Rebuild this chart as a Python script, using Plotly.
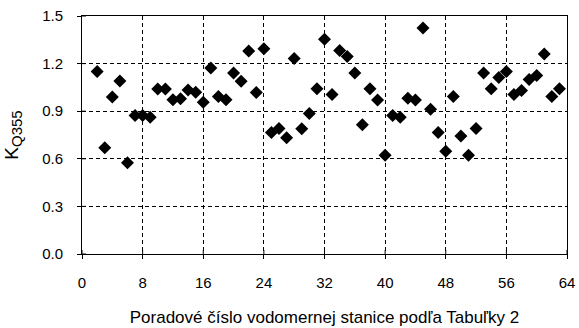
import plotly.graph_objects as go

# Station numbers and coefficient K_Q355
stations = list(range(2, 64))
k_q355 = [1.15, 0.67, 0.99, 1.09, 0.575, 0.873, 0.873, 0.862, 1.04, 1.04,
          0.972, 0.978, 1.033, 1.02, 0.957, 1.173, 0.993, 0.972, 1.14, 1.089,
          1.28, 1.018, 1.293, 0.766, 0.791, 0.732, 1.232, 0.789, 0.886, 1.041,
          1.354, 1.006, 1.283, 1.245, 1.14, 0.814, 1.041, 0.97, 0.623, 0.873,
          0.862, 0.982, 0.97, 1.424, 0.913, 0.766, 0.647, 0.993, 0.743, 0.623,
          0.791, 1.14, 1.041, 1.113, 1.15, 1.006, 1.031, 1.10, 1.125, 1.26,
          0.993, 1.041]

x_ticks = list(range(0, 65, 8))
y_ticks = [0.0, 0.3, 0.6, 0.9, 1.2, 1.5]

font_family = "Liberation Sans, Arial, sans-serif"

fig = go.Figure(
    go.Scatter(
        x=stations, y=k_q355, mode="markers",
        marker=dict(symbol="diamond", size=10, color="black"),
        showlegend=False,
    )
)

axis_common = dict(
    showline=True, linecolor="black", linewidth=1, mirror=True,
    showgrid=True, gridcolor="black", gridwidth=1, griddash="4px,3px",
    ticks="outside", ticklen=4, tickcolor="black",
    zeroline=False, automargin=False,
    tickfont=dict(family=font_family, size=15, color="black"),
)

fig.update_xaxes(
    range=[0, 64], tickvals=x_ticks, ticklabelstandoff=11,
    title=dict(text="Poradové číslo vodomernej stanice podľa Tabuľky 2",
               font=dict(family=font_family, size=17, color="black"), standoff=21),
    **axis_common,
)
fig.update_yaxes(
    range=[0, 1.5], tickvals=y_ticks, tickformat=".1f", ticklabelstandoff=11,
    title=dict(text="K<sub><span style='font-size:15px'>Q355</span></sub>",
               font=dict(family=font_family, size=19, color="black"), standoff=18),
    **axis_common,
)

# tick marks crossing the axes: short inner halves drawn on each tick value
shapes = []
for t in x_ticks:
    shapes.append(dict(type="line", xref="x", yref="y", x0=t, x1=t,
                       ysizemode="pixel", yanchor=0, y0=0, y1=4,
                       line=dict(color="black", width=1)))
for t in y_ticks:
    shapes.append(dict(type="line", xref="x", yref="y", y0=t, y1=t,
                       xsizemode="pixel", xanchor=0, x0=0, x1=4,
                       line=dict(color="black", width=1)))

fig.update_layout(
    width=579, height=328,
    margin=dict(l=82, r=12, t=16, b=74),
    plot_bgcolor="white", paper_bgcolor="white",
    font=dict(family=font_family, color="black"),
    shapes=shapes,
)

fig.write_html("out.html")
